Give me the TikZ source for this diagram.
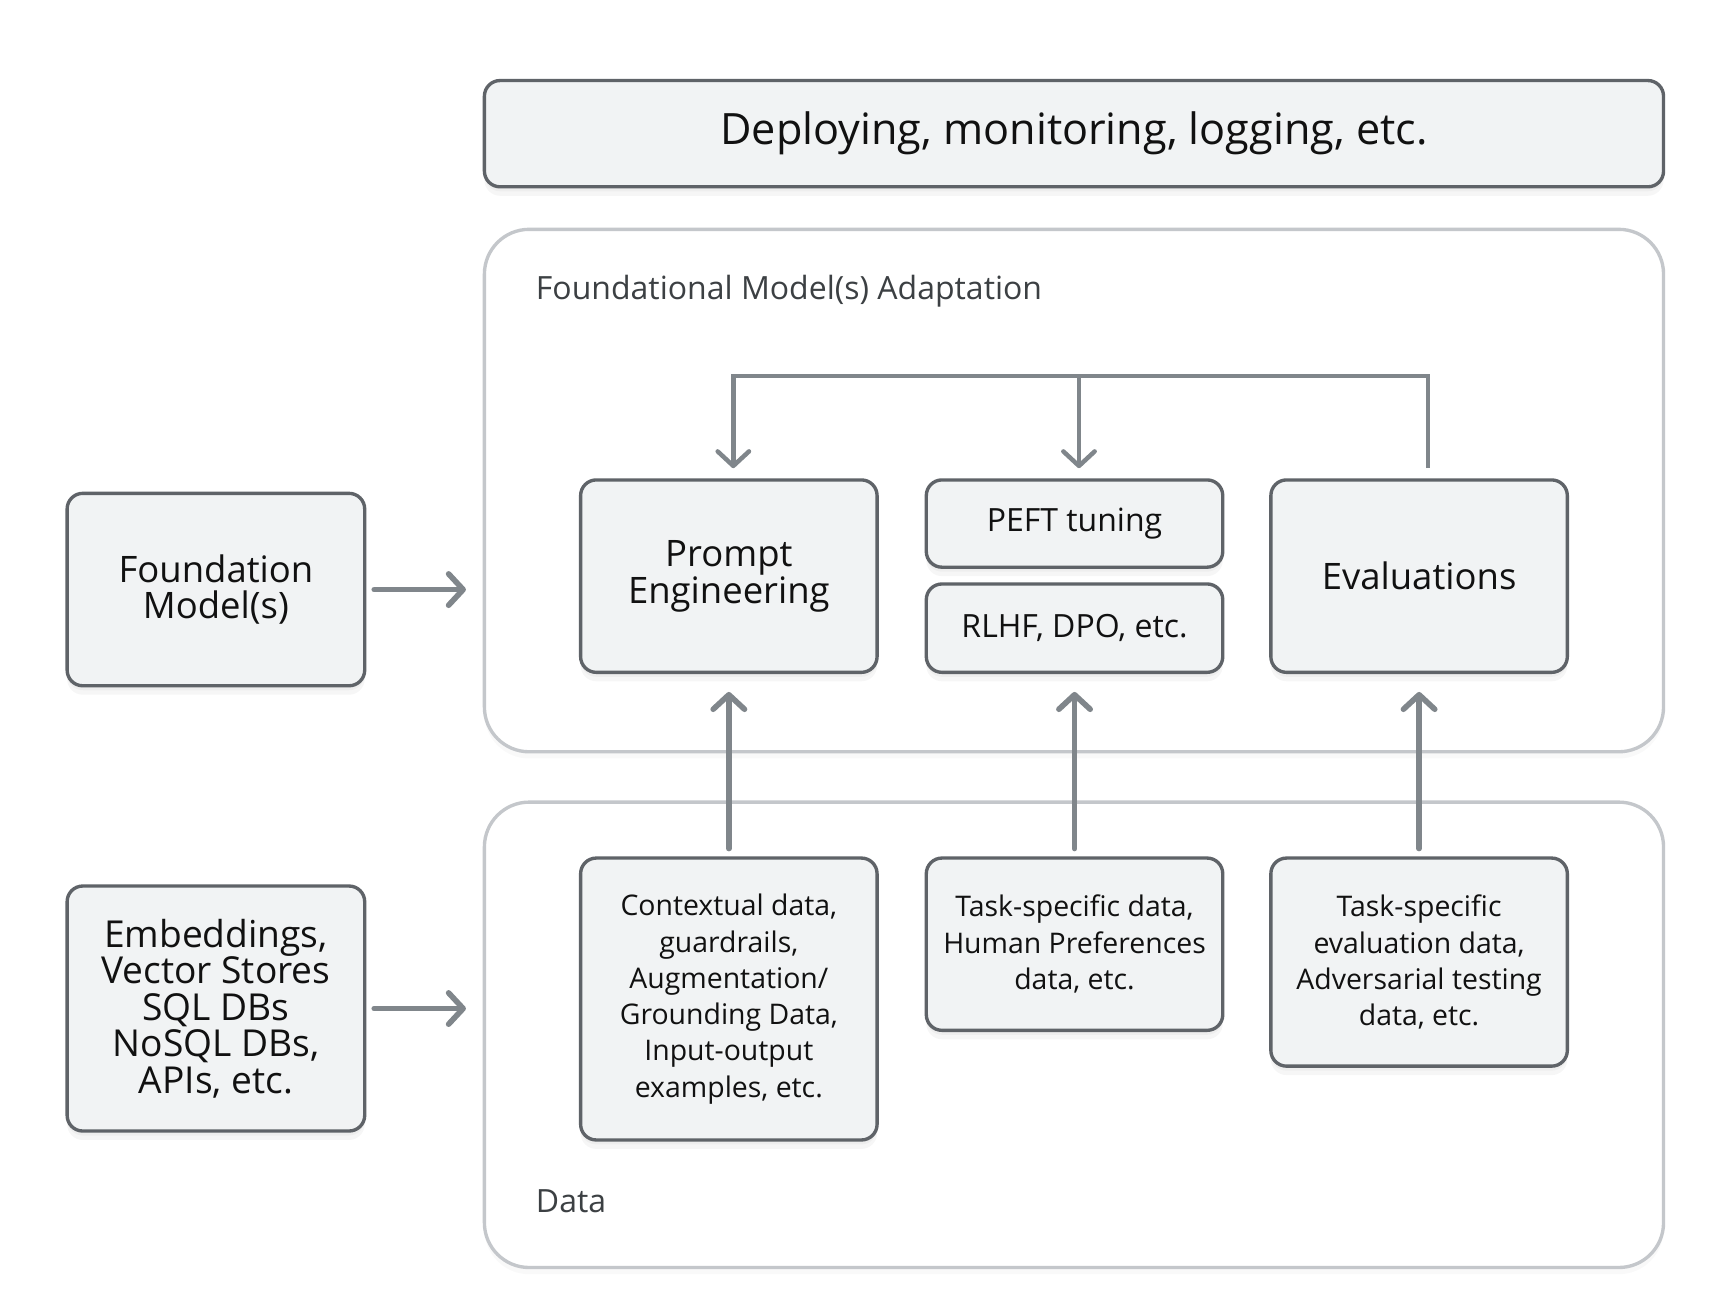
\documentclass[tikz,border=0pt]{standalone}
\usepackage{fontspec}
\setmainfont{Open Sans}
\usetikzlibrary{arrows.meta,shadows}
\definecolor{boxfill}{HTML}{F1F3F4}
\definecolor{boxline}{HTML}{5F6368}
\definecolor{contline}{HTML}{C4C7CB}
\definecolor{arrcol}{HTML}{80868B}
\definecolor{labcol}{HTML}{3C4043}
\definecolor{txtcol}{HTML}{111111}
\begin{document}
\begin{tikzpicture}[x=0.5pt,y=-0.5pt,
  shd/.style={general shadow={fill=black,opacity=0.035,shadow yshift=-4pt,shadow xshift=0pt},
              general shadow={fill=black,opacity=0.03,shadow yshift=-2pt,shadow xshift=0pt}},
  box/.style={draw=boxline,line width=1.5pt,fill=boxfill,rounded corners=7pt,inner sep=0pt,align=center,text=txtcol,shd},
  cont/.style={draw=contline,line width=1.5pt,fill=white,rounded corners=20pt,inner sep=0pt,
               general shadow={fill=black,opacity=0.025,shadow yshift=-3pt,shadow xshift=0pt}},
  bigtxt/.style={font=\fontsize{16.3}{16.5}\selectfont},
  midtxt/.style={font=\fontsize{14.3}{16}\selectfont},
  smalltxt/.style={font=\fontsize{12.7}{16.2}\selectfont},
  lab/.style={anchor=west,text=labcol,font=\fontsize{14.3}{16}\selectfont},
  arr/.style={draw=arrcol,line width=2.5pt,line cap=round,-{Straight Barb[length=6.5pt,width=14pt,round]}},
  fbl/.style={draw=arrcol,line width=2pt,line join=miter},
  fba/.style={fbl,-{Straight Barb[length=6.5pt,width=14pt,round]}}
]
\useasboundingbox (0,0) rectangle (1550,1160);
\fill[white] (0,0) rectangle (1550,1160);

% containers
\node[cont,minimum width=527pt,minimum height=233.5pt] (adapt) at (960,438.5) {};
\node[cont,minimum width=527pt,minimum height=208pt] (data) at (960,925) {};
\node[lab] (adlab) at (472,260) {Foundational Model(s) Adaptation};
\node[lab] (datalab) at (472,1074) {Data};

% top box
\node[box,minimum width=527pt,minimum height=47.5pt,font=\fontsize{19.3}{21}\selectfont] (deploy) at (960,119.5) {Deploying, monitoring, logging, etc.};

% left boxes
\node[box,bigtxt,minimum width=133pt,minimum height=86pt] (fm) at (193,527) {Foundation\\Model(s)};
\node[box,minimum width=133pt,minimum height=109.5pt,font=\fontsize{16.6}{16.3}\selectfont] (emb) at (193,901.5) {Embeddings,\\Vector Stores\\SQL DBs\\NoSQL DBs,\\APIs, etc.};

% adaptation boxes
\node[box,bigtxt,minimum width=132.5pt,minimum height=86pt] (pe) at (651.5,515) {Prompt\\Engineering};
\node[box,midtxt,minimum width=132.5pt,minimum height=39pt] (peft) at (960.5,468) {PEFT tuning};
\node[box,midtxt,minimum width=132.5pt,minimum height=39.5pt] (rlhf) at (960.5,561.5) {RLHF, DPO, etc.};
\node[box,bigtxt,minimum width=132.5pt,minimum height=86pt] (ev) at (1268.5,515) {Evaluations};

% data boxes
\node[box,smalltxt,minimum width=132.5pt,minimum height=126pt] (ctx) at (651.5,893) {Contextual data,\\guardrails,\\Augmentation/\\Grounding Data,\\Input-output\\examples, etc.};
\node[box,smalltxt,minimum width=132.5pt,minimum height=77pt] (task) at (960.5,844) {Task-specific data,\\Human Preferences\\data, etc.};
\node[box,smalltxt,minimum width=132.5pt,minimum height=93pt] (adv) at (1268.5,860) {Task-specific\\evaluation data,\\Adversarial testing\\data, etc.};

% left arrows
\draw[arr] ([xshift=3.5pt]fm.east) -- ([xshift=-7.5pt]fm.east -| adapt.west);
\draw[arr] ([xshift=3.5pt]emb.east) -- ([xshift=-7.5pt]emb.east -| data.west);

% up arrows
\draw[arr] ([yshift=3.5pt]ctx.north) -- ([yshift=-8pt]pe.south);
\draw[arr] ([yshift=3.5pt]task.north) -- ([yshift=-8pt]rlhf.south);
\draw[arr] ([yshift=3.5pt]adv.north) -- ([yshift=-8pt]ev.south);

% feedback loop
\coordinate (bus) at (0,336);
\draw[fba] ([xshift=4pt,yshift=4.5pt]ev.north) -- ([xshift=4pt]ev.north |- bus) -- ([xshift=2pt]pe.north |- bus) -- ([xshift=2pt,yshift=4.5pt]pe.north);
\draw[fba] ([xshift=2pt]peft.north |- bus) -- ([xshift=2pt,yshift=4.5pt]peft.north);
\end{tikzpicture}
\end{document}
